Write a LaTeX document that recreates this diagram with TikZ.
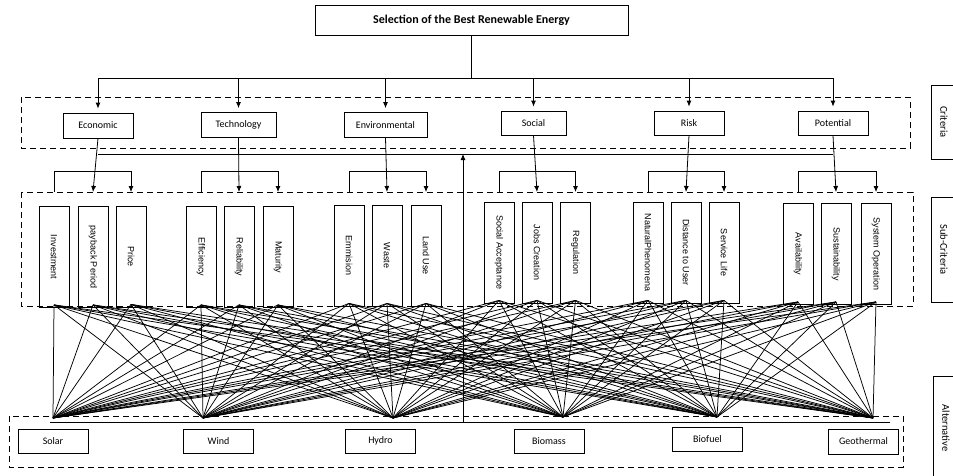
\documentclass[tikz,border=0pt]{standalone}
\usepackage{fontspec}
\setmainfont{Carlito}
\newfontfamily\arialfont{Liberation Sans}
\usetikzlibrary{arrows.meta}

\begin{document}
\begin{tikzpicture}[
    x=1pt, y=-1pt,
    line width=0.8pt,
    title node/.style={draw, inner sep=0pt, minimum width=313pt, minimum height=30pt, font=\fontsize{12}{14}\selectfont\bfseries},
    crit node/.style={draw, inner sep=0pt, minimum width=70pt, minimum height=25pt, font=\fontsize{10}{12}\selectfont},
    sub node/.style={draw, inner sep=0pt, rotate=-90, minimum width=101pt, minimum height=30pt, font=\arialfont\fontsize{9}{10}\selectfont},
    alt node/.style={draw, inner sep=0pt, minimum width=70pt, minimum height=24pt, font=\fontsize{10}{12}\selectfont},
    side node/.style={draw, inner sep=0pt, rotate=-90, minimum height=26pt, font=\fontsize{10.5}{13}\selectfont},
    group box/.style={dash pattern=on 6pt off 4pt},
    arrow/.style={-{Latex[length=6pt,width=5pt]}},
    link/.style={line width=0.75pt}
]
    \useasboundingbox (0,0) rectangle (953,475);

    % goal
    \node[title node] (goal) at (471.5,20) {Selection of the Best Renewable Energy};

    % criteria
    \draw[group box] (21,97) rectangle (910,148);
    \node[crit node] (econ) at (98,125.5) {Economic};
    \node[crit node, minimum width=75pt] (tech) at (238.5,125) {Technology};
    \node[crit node, minimum width=83pt] (env) at (385.5,125) {Environmental};
    \node[crit node, minimum width=65pt, minimum height=24pt] (soc) at (533.5,123) {Social};
    \node[crit node, minimum height=24pt] (risk) at (689,123) {Risk};
    \node[crit node, minimum height=24pt] (pot) at (833,123) {Potential};

    \coordinate (topbus) at (0,78);
    \draw (goal.south) -- (goal.south |- topbus);
    \draw (econ.north |- topbus) -- (pot.north |- topbus);
    \foreach \n in {econ,tech,env,soc,risk,pot}
        \draw[arrow, shorten >=4pt] (\n.north |- topbus) -- (\n.north);

    % sub-criteria (rotated: west is the top, east the bottom)
    \draw[group box] (21,192) rectangle (913,306);
    \node[sub node] (s1) at (54,257) {Investment};
    \node[sub node] (s2) at (93,257) {payback Period};
    \node[sub node] (s3) at (131,256.5) {Price};
    \node[sub node] (s4) at (201,257) {Efficiency};
    \node[sub node] (s5) at (239,257) {Reliability};
    \node[sub node] (s6) at (278,257) {Maturity};
    \node[sub node] (s7) at (349,255.5) {Emmision};
    \node[sub node] (s8) at (387,255.5) {Waste};
    \node[sub node] (s9) at (426,255.5) {Land Use};
    \node[sub node] (s10) at (499,252.5) {Social Acceptance};
    \node[sub node] (s11) at (537,252.5) {Jobs Creation};
    \node[sub node] (s12) at (575.5,252.5) {Regulation};
    \node[sub node] (s13) at (648,252.5) {NaturalPhenomena};
    \node[sub node] (s14) at (686,252.5) {Distance to User};
    \node[sub node] (s15) at (724,252.5) {Service Life};
    \node[sub node] (s16) at (798,254) {Availability};
    \node[sub node] (s17) at (836,254) {Sustainability};
    \node[sub node] (s18) at (876,254) {System Operation};

    \coordinate (midbus) at (0,154);
    \coordinate (bracket) at (0,171);
    \coordinate (subtop) at (0,192);
    \draw (econ.south |- midbus) -- (pot.south |- midbus);
    \foreach \c/\l/\m/\r in {econ/s1/s2/s3, tech/s4/s5/s6, env/s7/s8/s9,
                             soc/s10/s11/s12, risk/s13/s14/s15, pot/s16/s17/s18} {
        \draw[arrow] (\c.south) -- (\m.east |- subtop);
        \draw[arrow] (\l.east |- subtop) |- (\r.east |- bracket) -- (\r.east |- subtop);
    }

    % alternatives
    \draw[group box] (9,416) rectangle (903,467);
    \node[alt node] (a1) at (53,441) {Solar};
    \node[alt node] (a2) at (218.5,441) {Wind};
    \node[alt node] (a3) at (380.5,441) {Hydro};
    \node[alt node] (a4) at (549,441) {Biomass};
    \node[alt node] (a5) at (707.5,439) {Biofuel};
    \node[alt node, minimum height=25pt] (a6) at (863.5,441.5) {Geothermal};

    \coordinate (h1) at (53,418);
    \coordinate (h2) at (203,418);
    \coordinate (h3) at (393,418);
    \coordinate (h4) at (563,417);
    \coordinate (h5) at (717,417);
    \coordinate (h6) at (873,418);

    % links
    \foreach \i in {1,...,18}
        \foreach \j in {1,...,6}
            \draw[link] ([yshift=3pt]s\i.east) -- (h\j);

    \coordinate (altbus l) at (50,422);
    \coordinate (altbus r) at (890,422);
    \coordinate (feedback) at (463,422);
    \draw (altbus l) -- (altbus r);
    \draw[arrow] (feedback) -- (feedback |- midbus);

    % levels
    \node[side node, minimum width=74pt] (lvl1) at (944,122) {Criteria};
    \node[side node, minimum width=105pt] (lvl2) at (944,249.5) {Sub-Criteria};
    \node[side node, minimum width=104pt] (lvl3) at (946,428) {Alternative};
\end{tikzpicture}
\end{document}
